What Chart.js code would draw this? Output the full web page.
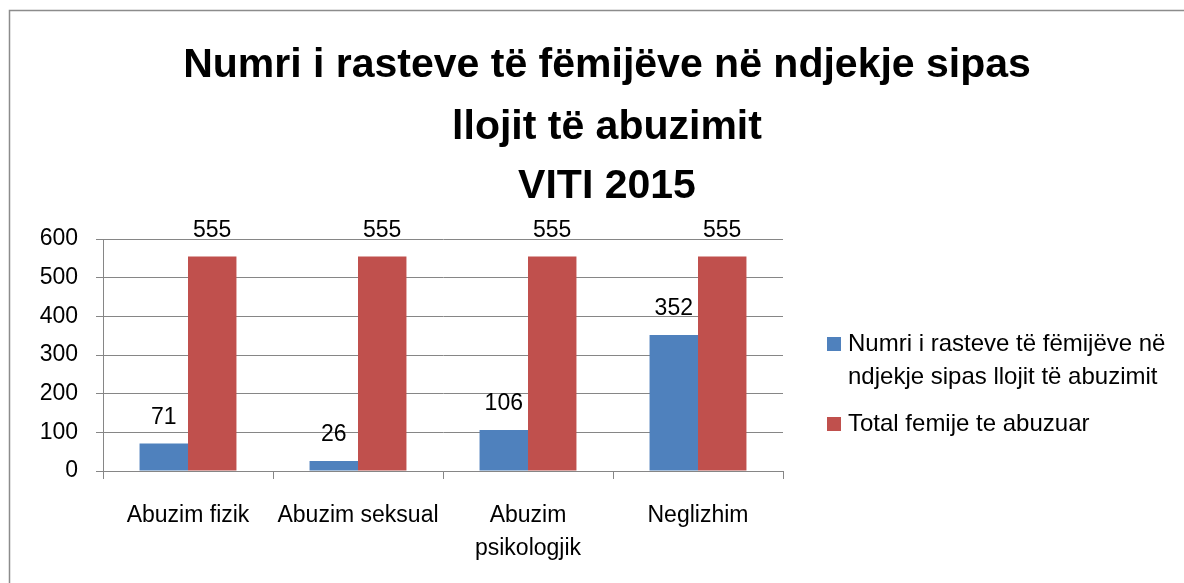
<!DOCTYPE html>
<html>
<head>
<meta charset="utf-8">
<script src="https://cdn.jsdelivr.net/npm/chart.js@4.4.0/dist/chart.umd.min.js"></script>
<style>
  html, body { margin: 0; padding: 0; background: #fff; }
  #wrap { position: relative; width: 1184px; height: 583px; }
</style>
</head>
<body>
<div id="wrap"><canvas id="chart" width="1184" height="583"></canvas></div>
<script>
// Te dhenat
const titleLines = ['Numri i rasteve të fëmijëve në ndjekje sipas', 'llojit të abuzimit', 'VITI 2015'];
const categories = [['Abuzim fizik'], ['Abuzim seksual'], ['Abuzim', 'psikologjik'], ['Neglizhim']];
const rasteNdjekje = [71, 26, 106, 352];
const totalAbuzuar = [555, 555, 555, 555];
const seriesNames = [['Numri i rasteve të fëmijëve në', 'ndjekje sipas llojit të abuzimit'], ['Total femije te abuzuar']];
const seriesColors = ['#4F81BD', '#C0504D'];
const yTicks = [0, 100, 200, 300, 400, 500, 600];

const FONT = '"Liberation Sans", Arial, sans-serif';
const gridColor = '#868686';

// frame, title, value labels and legend
const extras = {
    id: 'extras',
    afterDraw(chart) {
        const ctx = chart.ctx;
        ctx.save();
        // frame (left + top only visible)
        ctx.strokeStyle = '#8c8c8c';
        ctx.lineWidth = 1.5;
        ctx.beginPath();
        ctx.moveTo(9.5, 583);
        ctx.lineTo(9.5, 10.5);
        ctx.lineTo(1184, 10.5);
        ctx.stroke();

        // title
        ctx.fillStyle = '#000';
        ctx.textAlign = 'center';
        ctx.textBaseline = 'alphabetic';
        ctx.font = 'bold 41px ' + FONT;
        const baselines = [77, 139, 198];
        titleLines.forEach((t, i) => ctx.fillText(t, 607, baselines[i]));

        // value labels
        ctx.font = '23px ' + FONT;
        ctx.textBaseline = 'middle';
        chart.data.datasets.forEach((ds, di) => {
            chart.getDatasetMeta(di).data.forEach((bar, i) => {
                ctx.fillText(String(ds.data[i]), bar.x, bar.y - 26);
            });
        });

        // legend
        ctx.textAlign = 'left';
        ctx.font = '24px ' + FONT;
        let y = 344;
        seriesNames.forEach((lines, i) => {
            ctx.fillStyle = seriesColors[i];
            ctx.fillRect(827, y - 7, 14, 14);
            ctx.fillStyle = '#000';
            lines.forEach((l, j) => ctx.fillText(l, 848, y + j * 33));
            y += lines.length * 33 + 14;
        });
        ctx.restore();
    }
};

new Chart(document.getElementById('chart'), {
    type: 'bar',
    data: {
        labels: categories,
        datasets: [
            { label: seriesNames[0].join(' '), data: rasteNdjekje, backgroundColor: seriesColors[0] },
            { label: seriesNames[1].join(' '), data: totalAbuzuar, backgroundColor: seriesColors[1] }
        ]
    },
    options: {
        responsive: false,
        animation: false,
        events: [],
        datasets: { bar: { categoryPercentage: 0.57, barPercentage: 1.0 } },
        layout: { padding: { left: 10, top: 239, right: 401, bottom: 20 } },
        plugins: { legend: { display: false }, title: { display: false }, tooltip: { enabled: false } },
        scales: {
            x: {
                afterFit: s => { s.height = 92; },
                grid: { display: true, drawOnChartArea: false, drawTicks: true, tickLength: 8, color: gridColor, offset: true },
                border: { color: gridColor },
                ticks: { color: '#000', padding: 20, font: { family: FONT, size: 23, lineHeight: 1.43 }, maxRotation: 0 }
            },
            y: {
                min: 0, max: 600,
                afterFit: s => { s.width = 93; },
                afterBuildTicks: s => { s.ticks = yTicks.map(v => ({ value: v })); },
                grid: { color: gridColor, tickLength: 7 },
                border: { color: gridColor },
                ticks: { color: '#000', padding: 18, font: { family: FONT, size: 23 } }
            }
        }
    },
    plugins: [extras]
});
</script>
</body>
</html>
